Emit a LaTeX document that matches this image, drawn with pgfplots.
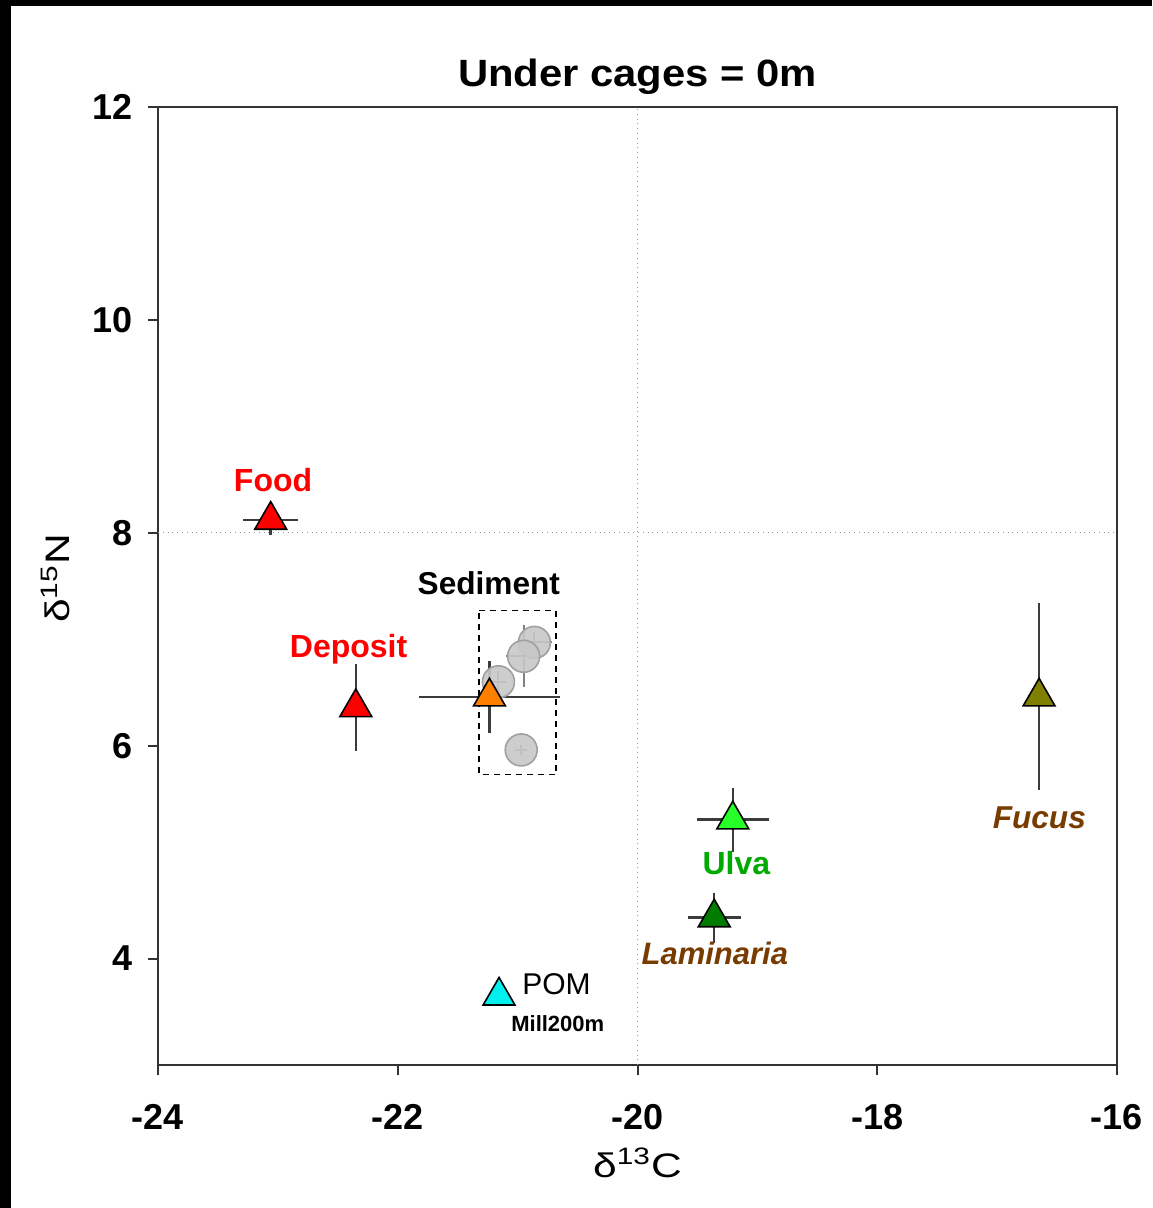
\documentclass[border=0pt]{standalone}
\usepackage{pgfplots}
\pgfplotsset{compat=1.18}
\usepackage{fontspec}
\setmainfont{Liberation Sans}

\definecolor{ulvafill}{RGB}{40,255,40}
\definecolor{lamfill}{RGB}{0,125,0}
\definecolor{fucfill}{RGB}{128,128,0}
\definecolor{pomfill}{RGB}{0,240,240}
\definecolor{sedfill}{RGB}{255,128,0}
\definecolor{ulvatext}{RGB}{0,170,0}
\definecolor{browntext}{RGB}{120,60,0}
\definecolor{errgray}{RGB}{60,60,60}
\definecolor{dotgray}{RGB}{150,150,150}
\definecolor{circfill}{RGB}{200,200,200}
\definecolor{circedge}{RGB}{160,160,160}

\pgfplotsset{
  source/.style={only marks, mark=triangle*, mark size=9.2pt,
    mark options={fill=#1, draw=black, line width=0.8pt},
    error bars/.cd, x dir=both, x explicit, y dir=both, y explicit,
    error mark=none, error bar style={line width=1.2pt, errgray}},
  sed/.style={only marks, mark=*, mark size=8pt,
    mark options={fill=circfill, draw=circedge, line width=0.8pt, fill opacity=0.9},
    error bars/.cd, x dir=both, x explicit, y dir=both, y explicit,
    error mark=none, error bar style={line width=1pt, gray}},
}

\begin{document}
\begin{tikzpicture}
\fill[white] (0pt,0pt) rectangle (576pt,-604pt);
\fill[black] (0pt,0pt) rectangle (5.5pt,-604pt);
\fill[black] (0pt,0pt) rectangle (576pt,-3pt);
\useasboundingbox (0pt,0pt) rectangle (576pt,-604pt);
\begin{axis}[
  at={(79pt,-532.5pt)}, anchor=south west,
  scale only axis, width=479.5pt, height=479pt,
  xmin=-24, xmax=-16, ymin=3, ymax=12,
  xtick={-24,-22,-20,-18,-16},
  xticklabels={{-24},{-22},{-20},{-18},{-16}},
  ytick={4,6,8,10,12},
  yticklabels={4,6,8,10,12},
  tick pos=left, tick align=outside,
  major tick length=5pt,
  axis line style={line width=1pt, black!80},
  tick style={line width=1pt, black!80},
  ticklabel style={font=\fontsize{18}{18}\selectfont\bfseries},
  xticklabel style={yshift=-11pt},
  yticklabel style={xshift=-4pt},
  extra x ticks={-20}, extra y ticks={8},
  extra x tick labels={}, extra y tick labels={},
  extra tick style={grid=major, major grid style={dotted, dotgray, line width=0.6pt}},
  title={\bfseries Under cages = 0m},
  title style={at={(axis description cs:0.5,1.0084)}, anchor=base,
    font=\fontsize{19}{19}\selectfont, xscale=1.1},
  xlabel={δ\textsuperscript{13}C},
  xlabel style={at={(axis description cs:0.5,-0.1169)}, anchor=base,
    font=\fontsize{17}{17}\selectfont, xscale=1.25},
  ylabel={δ\textsuperscript{15}N},
  ylabel style={at={(axis description cs:-0.0918,0.508)}, anchor=base,
    font=\fontsize{17}{17}\selectfont, xscale=1.25},
  clip=false,
]
% sediment samples, enclosed by a dashed frame
\addplot[dashed, dash pattern=on 3pt off 2.5pt, black, line width=0.8pt, mark=none]
  coordinates {(-21.32,7.27) (-20.68,7.27) (-20.68,5.73) (-21.32,5.73) (-21.32,7.27)};
\addplot[sed] coordinates {(-20.86,6.97) +- (0.15,0.10)};
\addplot[sed] coordinates {(-20.95,6.84) +- (0.15,0.29)};
\addplot[sed] coordinates {(-21.16,6.60) +- (0.06,0.10)};
\addplot[sed] coordinates {(-20.97,5.96) +- (0.05,0.05)};
% sediment mean
\addplot[source=sedfill] coordinates {(-21.235,6.46) +- (0.588,0.34)};
% food and deposit
\addplot[source=red] coordinates {(-23.06,8.12) +- (0.23,0.14)};
\addplot[source=red] coordinates {(-22.35,6.36) +- (0.0,0.41)};
% macroalgae
\addplot[source=ulvafill] coordinates {(-19.205,5.305) +- (0.30,0.30)};
\addplot[source=lamfill] coordinates {(-19.36,4.385) +- (0.22,0.235)};
\addplot[source=fucfill] coordinates {(-16.65,6.46) +- (0.0,0.88)};
% particulate organic matter
\addplot[source=pomfill] coordinates {(-21.155,3.65) +- (0.0,0.0)};

\node[anchor=base, text=red, font=\fontsize{16}{16}\selectfont\bfseries] at (axis cs:-23.04,8.385) {Food};
\node[anchor=base, text=red, font=\fontsize{16}{16}\selectfont\bfseries] at (axis cs:-22.41,6.83) {Deposit};
\node[anchor=base, text=black, font=\fontsize{15.8}{16}\selectfont\bfseries] at (axis cs:-21.24,7.42) {Sediment};
\node[anchor=base, text=ulvatext, font=\fontsize{16}{16}\selectfont\bfseries] at (axis cs:-19.175,4.79) {Ulva};
\node[anchor=base, text=browntext, font=\fontsize{15.5}{16}\selectfont\bfseries\itshape] at (axis cs:-19.355,3.944) {Laminaria};
\node[anchor=base, text=browntext, font=\fontsize{15.8}{16}\selectfont\bfseries\itshape] at (axis cs:-16.648,5.22) {Fucus};
\node[anchor=base west, inner sep=0pt, font=\fontsize{15}{15}\selectfont] at (axis cs:-20.964,3.662) {POM};
\node[anchor=base west, inner sep=0pt, font=\fontsize{11}{11}\selectfont\bfseries] at (axis cs:-21.056,3.315) {Mill200m};
\end{axis}
\end{tikzpicture}
\end{document}
